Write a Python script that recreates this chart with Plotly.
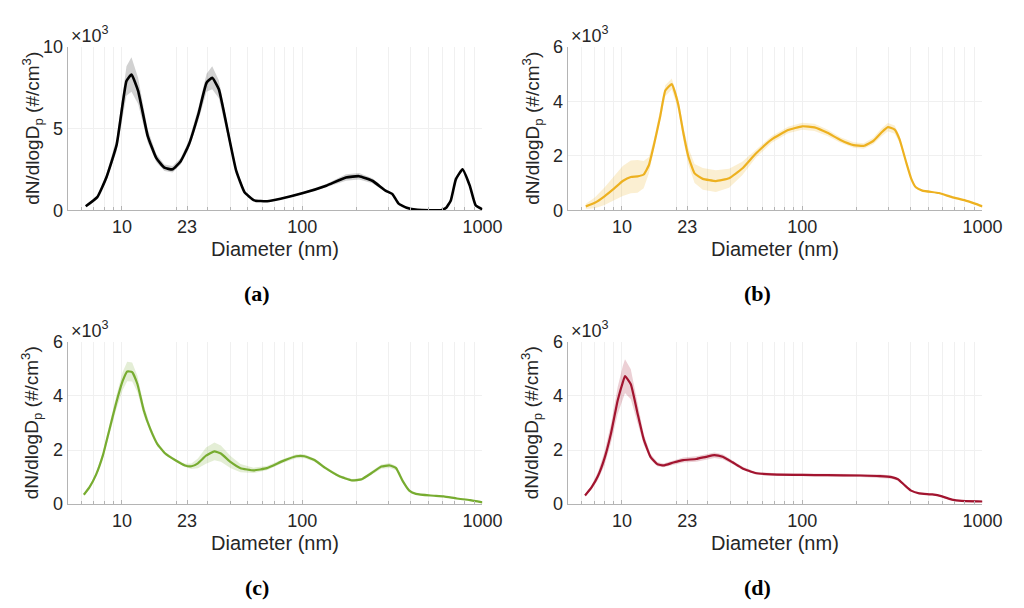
import plotly.graph_objects as go

# ---------------- data (values in units of 10^3 #/cm^3) ----------------
d_a = [6.3, 7.3, 8.2, 9.35, 10.6, 11.3, 12.3, 13.9, 15.5, 17.2, 19.1, 21.2, 23.5, 26.6, 29.5, 31.7,
       34.5, 38.8, 43.1, 47.9, 54.3, 64, 75.9, 100, 136, 175, 207, 245, 290, 316, 343, 380, 437,
       589, 630, 668, 713, 776, 851, 917, 1000]
m_a = [0.24, 0.8, 2.0, 4.0, 7.9, 8.3, 7.3, 4.55, 3.2, 2.6, 2.5, 3.0, 4.0, 5.9, 7.8, 8.1,
       7.4, 4.75, 2.4, 1.1, 0.6, 0.55, 0.7, 1.03, 1.5, 2.0, 2.08, 1.8, 1.2, 1.0, 0.4, 0.15, 0.02,
       0.0, 0.15, 0.6, 1.9, 2.5, 1.5, 0.3, 0.05]
s_a = [0.05, 0.1, 0.2, 0.4, 0.9, 1.05, 0.8, 0.4, 0.25, 0.2, 0.2, 0.2, 0.25, 0.4, 0.55, 0.7,
       0.55, 0.3, 0.15, 0.08, 0.05, 0.05, 0.05, 0.06, 0.1, 0.2, 0.2, 0.15, 0.08, 0.06, 0.03, 0.02, 0.0,
       0.0, 0.0, 0.0, 0.0, 0.0, 0.0, 0.0, 0.0]

d_b = [6.3, 7.07, 8.0, 9.1, 10.1, 11.2, 12.2, 13.2, 14.1, 15.0, 16.3, 17.4, 18.9, 20.5, 21.9, 23.3,
       25.3, 28.1, 33.2, 39.3, 46.5, 55, 67.8, 83.5, 100, 117, 138, 163, 193, 219, 248, 276, 299,
       326, 347, 377, 402, 427, 464, 573, 677, 801, 908, 1000]
m_b = [0.14, 0.27, 0.51, 0.81, 1.07, 1.22, 1.24, 1.31, 1.65, 2.36, 3.44, 4.39, 4.63, 3.9, 2.84, 2.0,
       1.35, 1.15, 1.07, 1.17, 1.53, 2.06, 2.6, 2.94, 3.08, 3.04, 2.84, 2.58, 2.39, 2.36, 2.54, 2.86, 3.05,
       2.96, 2.6, 1.77, 1.17, 0.84, 0.72, 0.63, 0.48, 0.36, 0.24, 0.14]
s_b = [0.1, 0.2, 0.32, 0.45, 0.55, 0.6, 0.6, 0.5, 0.3, 0.2, 0.2, 0.2, 0.2, 0.2, 0.25, 0.3,
       0.35, 0.4, 0.4, 0.35, 0.25, 0.15, 0.12, 0.12, 0.13, 0.13, 0.12, 0.1, 0.1, 0.1, 0.12, 0.15, 0.15,
       0.15, 0.12, 0.08, 0.05, 0.04, 0.03, 0.02, 0.02, 0.02, 0.02, 0.02]

d_c = [6.15, 6.6, 7.2, 7.85, 8.53, 9.27, 10.1, 10.7, 11.4, 12.2, 13.2, 14.4, 15.7, 17.4, 19.7, 22.4,
       24.3, 26.4, 29.3, 32.6, 35.4, 40.2, 45.5, 53.8, 63.7, 78.5, 92.8, 103, 117, 135, 160, 189, 214,
       243, 275, 306, 332, 361, 393, 428, 516, 610, 721, 853, 1000]
m_c = [0.35, 0.62, 1.1, 1.81, 2.76, 3.71, 4.55, 4.9, 4.88, 4.43, 3.48, 2.76, 2.23, 1.87, 1.63, 1.43,
       1.4, 1.51, 1.79, 1.95, 1.87, 1.55, 1.33, 1.25, 1.33, 1.6, 1.77, 1.77, 1.63, 1.33, 1.04, 0.88, 0.92,
       1.15, 1.39, 1.43, 1.33, 0.86, 0.5, 0.38, 0.32, 0.29, 0.21, 0.15, 0.07]
s_c = [0.03, 0.05, 0.08, 0.12, 0.18, 0.25, 0.33, 0.36, 0.35, 0.3, 0.2, 0.12, 0.08, 0.06, 0.05, 0.06,
       0.1, 0.18, 0.3, 0.33, 0.3, 0.22, 0.15, 0.1, 0.08, 0.07, 0.07, 0.07, 0.06, 0.05, 0.05, 0.05, 0.05,
       0.06, 0.08, 0.09, 0.08, 0.05, 0.03, 0.02, 0.02, 0.02, 0.02, 0.02, 0.02]

d_d = [6.24, 6.78, 7.36, 8.0, 8.71, 9.47, 10.1, 10.4, 11.2, 12.2, 13.2, 14.4, 15.7, 17.0, 19.3, 21.9,
       25.9, 29.3, 32.6, 36.2, 41.0, 46.5, 55, 67.8, 100, 138, 210, 270, 313, 340, 369, 402, 446, 527,
       597, 677, 767, 1000]
m_d = [0.32, 0.62, 1.04, 1.69, 2.64, 3.83, 4.49, 4.73, 4.43, 3.36, 2.4, 1.75, 1.48, 1.43, 1.54, 1.63,
       1.67, 1.75, 1.81, 1.75, 1.55, 1.33, 1.15, 1.1, 1.08, 1.07, 1.06, 1.04, 1.0, 0.92, 0.71, 0.5, 0.4, 0.36,
       0.29, 0.17, 0.12, 0.1]
s_d = [0.04, 0.08, 0.15, 0.25, 0.35, 0.5, 0.6, 0.62, 0.55, 0.35, 0.2, 0.1, 0.08, 0.07, 0.08, 0.09,
       0.1, 0.1, 0.1, 0.09, 0.07, 0.06, 0.05, 0.05, 0.05, 0.05, 0.06, 0.07, 0.06, 0.05, 0.04, 0.03, 0.03, 0.03,
       0.03, 0.02, 0.02, 0.02]

x_tick_vals = [10, 23, 100, 1000]
x_tick_text = ["10", "23", "100", "1000"]
y_ticks_a = [0, 5, 10]
y_ticks_bcd = [0, 2, 4, 6]
panel_labels = ["(a)", "(b)", "(c)", "(d)"]
x_title = "Diameter (nm)"
y_title = "dN/dlogD<sub>p</sub> (#/cm<sup>3</sup>)"

# ---------------- styling ----------------
W, H = 1024, 608
FONT = "Liberation Sans, Arial, sans-serif"
TXT = "#262626"
AXC = "#b4b4b4"
GRID = "#f0f0f0"

panels = [
    dict(d=d_a, m=m_a, s=s_a, color="#000000", band="rgba(0,0,0,0.18)", width=2.6,
         ymax=10, yt=y_ticks_a, px=(69, 492), py=(38, 207)),
    dict(d=d_b, m=m_b, s=s_b, color="#EDB120", band="rgba(237,177,32,0.2)", width=2.2,
         ymax=6, yt=y_ticks_bcd, px=(579, 1002), py=(38, 207)),
    dict(d=d_c, m=m_c, s=s_c, color="#77AC30", band="rgba(119,172,48,0.2)", width=2.2,
         ymax=6, yt=y_ticks_bcd, px=(69, 492), py=(343, 511)),
    dict(d=d_d, m=m_d, s=s_d, color="#A2142F", band="rgba(162,20,47,0.2)", width=2.2,
         ymax=6, yt=y_ticks_bcd, px=(579, 1002), py=(343, 511)),
]

minor_vals = [k * 10 ** e for e in range(0, 3) for k in range(2, 10) if 5 < k * 10 ** e < 1000]

fig = go.Figure()
annotations = []
for i, p in enumerate(panels):
    xa = "x" if i == 0 else f"x{i+1}"
    ya = "y" if i == 0 else f"y{i+1}"
    up = [m + s for m, s in zip(p["m"], p["s"])]
    lo = [max(m - s, 0) for m, s in zip(p["m"], p["s"])]
    fig.add_trace(go.Scatter(x=p["d"] + p["d"][::-1], y=up + lo[::-1], fill="toself",
                             fillcolor=p["band"], line=dict(width=0), mode="lines",
                             hoverinfo="skip", showlegend=False, xaxis=xa, yaxis=ya))
    fig.add_trace(go.Scatter(x=p["d"], y=p["m"], mode="lines",
                             line=dict(color=p["color"], width=p["width"],
                                       shape="spline", smoothing=0.4),
                             showlegend=False, xaxis=xa, yaxis=ya))
    xk = "xaxis" if i == 0 else f"xaxis{i+1}"
    yk = "yaxis" if i == 0 else f"yaxis{i+1}"
    x0, x1 = p["px"]
    y0, y1 = p["py"]
    fig.layout[xk] = dict(
        type="log", range=[0.699, 3.0], domain=[x0 / W, x1 / W], anchor=ya,
        tickmode="array", tickvals=x_tick_vals, ticktext=x_tick_text,
        ticks="inside", ticklen=4, tickcolor=AXC, showline=True, linecolor=AXC, linewidth=1,
        showgrid=True, gridcolor=GRID, zeroline=False,
        tickfont=dict(family=FONT, size=18, color=TXT),
        minor=dict(tickmode="array", tickvals=minor_vals, ticks="inside", ticklen=3,
                   tickcolor=AXC, showgrid=True, gridcolor=GRID),
    )
    fig.layout[yk] = dict(
        range=[0, p["ymax"]], domain=[1 - y1 / H, 1 - y0 / H], anchor=xa,
        tickmode="array", tickvals=p["yt"], ticks="", tickcolor=AXC,
        showline=True, linecolor=AXC, linewidth=1, showgrid=True, gridcolor=GRID,
        zeroline=False, tickfont=dict(family=FONT, size=18, color=TXT),
    )
    cx = (x0 + x1) / 2
    cy = (y0 + y1) / 2
    # x title
    annotations.append(dict(text=x_title, x=cx / W, y=1 - (y1 + 40) / H, xref="paper", yref="paper",
                            xanchor="center", yanchor="middle", showarrow=False,
                            font=dict(family=FONT, size=20, color=TXT)))
    # y title
    annotations.append(dict(text=y_title, x=(x0 - 36) / W, y=1 - cy / H, xref="paper", yref="paper",
                            xanchor="center", yanchor="middle", textangle=-90, showarrow=False,
                            font=dict(family=FONT, size=19, color=TXT)))
    # exponent
    annotations.append(dict(text="\u00d710<sup>3</sup>", x=(x0 + 1) / W, y=1 - (y0 - 13) / H,
                            xref="paper", yref="paper", xanchor="left", yanchor="middle",
                            showarrow=False, font=dict(family=FONT, size=18, color=TXT)))
    # caption
    annotations.append(dict(text="<b>" + panel_labels[i] + "</b>", x=(cx - 18) / W,
                            y=1 - (y1 + 86) / H, xref="paper", yref="paper",
                            xanchor="center", yanchor="middle", showarrow=False,
                            font=dict(family="Liberation Serif, DejaVu Serif, serif", size=22,
                                      color="#000000")))

fig.update_layout(width=W, height=H, margin=dict(l=0, r=0, t=0, b=0),
                  paper_bgcolor="white", plot_bgcolor="white", annotations=annotations,
                  showlegend=False)
fig.write_html("out.html")
